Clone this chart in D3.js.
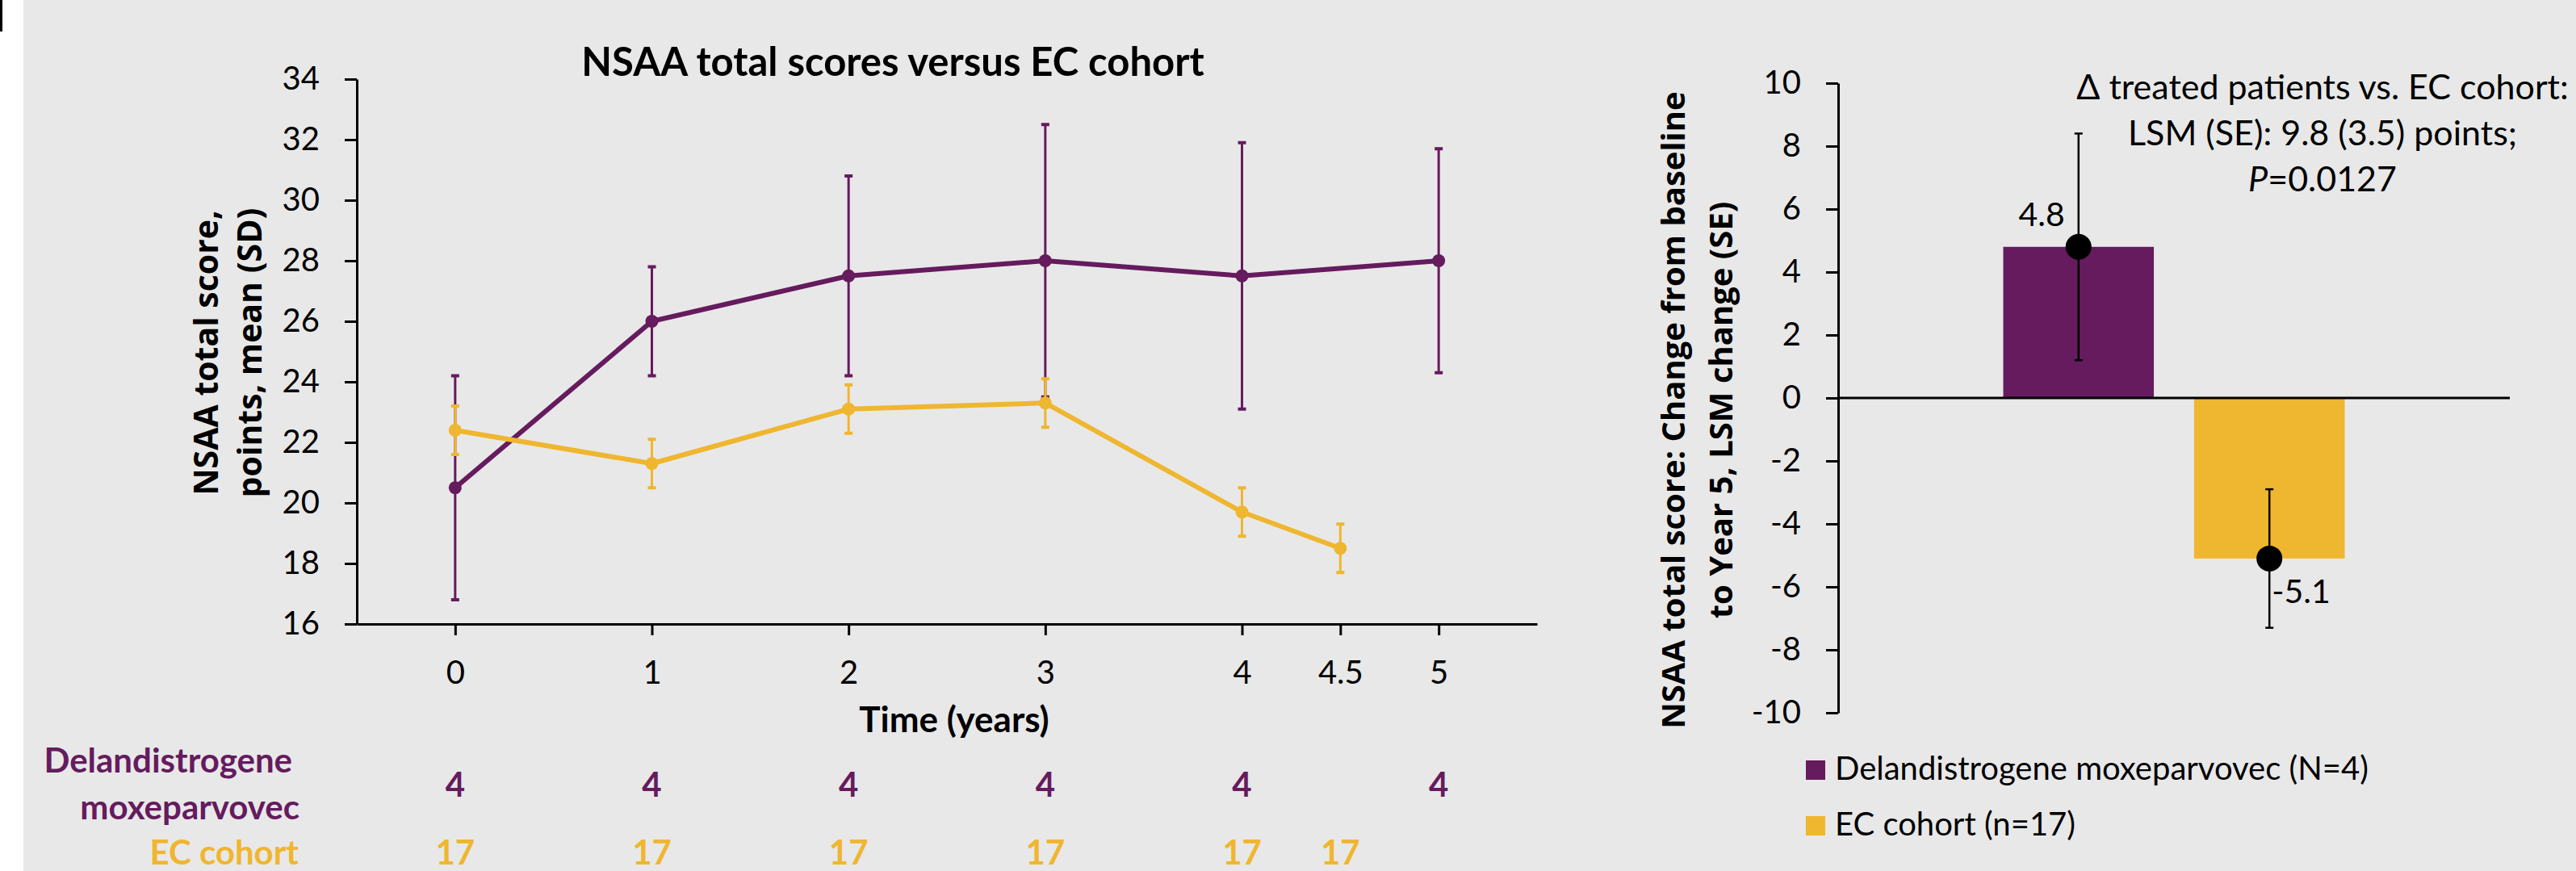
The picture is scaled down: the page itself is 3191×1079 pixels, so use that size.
<!DOCTYPE html>
<html>
<head>
<meta charset="utf-8">
<script src="https://cdn.jsdelivr.net/npm/d3@7"></script>
<style>
  body { margin: 0; background: #fff; }
  text { font-family: Lato, "Open Sans", sans-serif; fill: #000; }
</style>
</head>
<body>
<script>
// NSAA total scores - delandistrogene moxeparvovec vs EC cohort

// ---- data ----
var years = [0, 1, 2, 3, 4, 5];
var treatedMean = [20.5, 26.0, 27.5, 28.0, 27.5, 28.0];
var treatedLow  = [16.8, 24.2, 24.2, 23.5, 23.1, 24.3];
var treatedHigh = [24.2, 27.8, 30.8, 32.5, 31.9, 31.7];

var ecYears = [0, 1, 2, 3, 4, 4.5];
var ecMean = [22.4, 21.3, 23.1, 23.3, 19.7, 18.5];
var ecLow  = [21.6, 20.5, 22.3, 22.5, 18.9, 17.7];
var ecHigh = [23.2, 22.1, 23.9, 24.1, 20.5, 19.3];

var treatedN = [4, 4, 4, 4, 4, 4];
var ecN = [17, 17, 17, 17, 17, 17];

var xTicks = [0, 1, 2, 3, 4, 4.5, 5];
var yTicksLeft = [16, 18, 20, 22, 24, 26, 28, 30, 32, 34];

var barGroups = ["Delandistrogene moxeparvovec (N=4)", "EC cohort (n=17)"];
var barValues = [4.8, -5.1];
var barLow = [1.2, -7.3];
var barHigh = [8.4, -2.9];
var barLabels = ["4.8", "-5.1"];
var yTicksRight = [-10, -8, -6, -4, -2, 0, 2, 4, 6, 8, 10];

var purple = "#651b5e";
var yellow = "#efb62f";

var W = 3191, H = 1079;

var svg = d3.select("body").append("svg")
    .attr("width", W)
    .attr("height", H);

// background panel (white strip on the left edge)
svg.append("rect").attr("width", W).attr("height", H).attr("fill", "#fff");
svg.append("rect").attr("x", 29).attr("width", W - 29).attr("height", H).attr("fill", "#e8e8e8");
svg.append("rect").attr("x", 0).attr("y", 0).attr("width", 3).attr("height", 39).attr("fill", "#000");

// ================= left chart =================
var x = d3.scaleLinear().domain([-0.5, 5.5]).range([442, 1904]);
var y = d3.scaleLinear().domain([16, 34]).range([773, 98]);

// title
svg.append("text")
    .attr("x", 1106).attr("y", 94)
    .style("text-anchor", "middle")
    .style("font-weight", "bold")
    .style("font-size", "49px")
    .text("NSAA total scores versus EC cohort");

// y axis
var yAxisL = svg.append("g")
    .attr("transform", "translate(" + x(-0.5) + ",0)")
    .call(d3.axisLeft(y).tickValues(yTicksLeft).tickSize(15).tickSizeOuter(0).tickPadding(31));

// x axis
var xAxis = svg.append("g")
    .attr("transform", "translate(0," + y(16) + ")")
    .call(d3.axisBottom(x).tickValues(xTicks).tickSize(14).tickSizeOuter(0).tickPadding(32)
      .tickFormat(function(d) { return String(d); }));

[yAxisL, xAxis].forEach(function(a) {
  a.selectAll("path, line").attr("stroke", "#000").attr("stroke-width", 3);
  a.selectAll("text").style("font-size", "40px").attr("fill", "#000").style("font-family", "Lato, sans-serif");
});

// y label (two lines)
var yl = svg.append("text")
    .attr("transform", "translate(0,437) rotate(-90)")
    .style("text-anchor", "middle")
    .style("font-weight", "bold")
    .style("font-family", "'Open Sans', sans-serif")
    .style("font-size", "41px");
yl.append("tspan").attr("x", 0).attr("y", 270).text("NSAA total score,");
yl.append("tspan").attr("x", 0).attr("y", 324).text("points, mean (SD)");

// x label
svg.append("text")
    .attr("x", 1182).attr("y", 907)
    .style("text-anchor", "middle")
    .style("font-weight", "bold")
    .style("font-size", "44px")
    .text("Time (years)");

// series builder
function drawSeries(xs, means, lows, highs, color) {
  var pts = xs.map(function(d, i) { return {x: d, m: means[i], lo: lows[i], hi: highs[i]}; });
  var g = svg.append("g");

  // error bars
  g.selectAll(".eb").data(pts).enter().append("line")
      .attr("x1", function(d) { return x(d.x); })
      .attr("x2", function(d) { return x(d.x); })
      .attr("y1", function(d) { return y(d.lo); })
      .attr("y2", function(d) { return y(d.hi); })
      .attr("stroke", color).attr("stroke-width", 3);
  ["lo", "hi"].forEach(function(k) {
    g.selectAll(".cap" + k).data(pts).enter().append("line")
        .attr("x1", function(d) { return x(d.x) - 5; })
        .attr("x2", function(d) { return x(d.x) + 5; })
        .attr("y1", function(d) { return y(d[k]); })
        .attr("y2", function(d) { return y(d[k]); })
        .attr("stroke", color).attr("stroke-width", 4);
  });

  // line
  var line = d3.line()
      .x(function(d) { return x(d.x); })
      .y(function(d) { return y(d.m); });
  g.append("path").datum(pts)
      .attr("d", line)
      .attr("fill", "none")
      .attr("stroke", color)
      .attr("stroke-width", 6)
      .attr("stroke-linejoin", "round");

  // markers
  g.selectAll("circle").data(pts).enter().append("circle")
      .attr("cx", function(d) { return x(d.x); })
      .attr("cy", function(d) { return y(d.m); })
      .attr("r", 8)
      .attr("fill", color);
}

drawSeries(years, treatedMean, treatedLow, treatedHigh, purple);
drawSeries(ecYears, ecMean, ecLow, ecHigh, yellow);

// numbers at risk
svg.append("text").attr("x", 362).attr("y", 957)
    .style("text-anchor", "end").style("font-weight", "bold").style("font-size", "42px")
    .style("fill", purple).text("Delandistrogene");
svg.append("text").attr("x", 371).attr("y", 1015)
    .style("text-anchor", "end").style("font-weight", "bold").style("font-size", "42px")
    .style("fill", purple).text("moxeparvovec");
svg.append("text").attr("x", 370).attr("y", 1071)
    .style("text-anchor", "end").style("font-weight", "bold").style("font-size", "42px")
    .style("fill", yellow).text("EC cohort");

svg.selectAll(".nT").data(treatedN).enter().append("text")
    .attr("x", function(d, i) { return x(years[i]); })
    .attr("y", 987)
    .style("text-anchor", "middle").style("font-weight", "bold").style("font-size", "42px")
    .style("fill", purple)
    .text(function(d) { return d; });
svg.selectAll(".nE").data(ecN).enter().append("text")
    .attr("x", function(d, i) { return x(ecYears[i]); })
    .attr("y", 1071)
    .style("text-anchor", "middle").style("font-weight", "bold").style("font-size", "42px")
    .style("fill", yellow)
    .text(function(d) { return d; });

// ================= right chart =================
var yR = d3.scaleLinear().domain([-10, 10]).range([883, 103]);
var x0 = d3.scaleBand().domain(["Year 5"]).range([2277, 3109]);
var x1 = d3.scaleBand().domain(barGroups).range([0, x0.bandwidth()])
    .paddingInner(0.211).paddingOuter(0.865);
var barColor = d3.scaleOrdinal().domain(barGroups).range([purple, yellow]);

var yAxisR = svg.append("g")
    .attr("transform", "translate(2277,0)")
    .call(d3.axisLeft(yR).tickValues(yTicksRight).tickSize(15).tickSizeOuter(0).tickPadding(31)
      .tickFormat(function(d) { return String(d); }));
yAxisR.selectAll("path, line").attr("stroke", "#000").attr("stroke-width", 3);
yAxisR.selectAll("text").style("font-size", "40px").attr("fill", "#000").style("font-family", "Lato, sans-serif");

var bars = barGroups.map(function(g, i) {
  return {g: g, v: barValues[i], lo: barLow[i], hi: barHigh[i], label: barLabels[i]};
});
function cx(d) { return x0("Year 5") + x1(d.g) + x1.bandwidth() / 2; }

svg.selectAll(".bar").data(bars).enter().append("rect")
    .attr("x", function(d) { return x0("Year 5") + x1(d.g); })
    .attr("y", function(d) { return yR(Math.max(0, d.v)); })
    .attr("width", x1.bandwidth())
    .attr("height", function(d) { return Math.abs(yR(d.v) - yR(0)); })
    .attr("fill", function(d) { return barColor(d.g); });

// zero line
svg.append("line")
    .attr("x1", 2277).attr("x2", 3109)
    .attr("y1", yR(0)).attr("y2", yR(0))
    .attr("stroke", "#000").attr("stroke-width", 3);

// error bars
svg.selectAll(".ebR").data(bars).enter().append("line")
    .attr("x1", cx).attr("x2", cx)
    .attr("y1", function(d) { return yR(d.lo); })
    .attr("y2", function(d) { return yR(d.hi); })
    .attr("stroke", "#000").attr("stroke-width", 2.5);
["lo", "hi"].forEach(function(k) {
  svg.selectAll(".capR" + k).data(bars).enter().append("line")
      .attr("x1", function(d) { return cx(d) - 5; })
      .attr("x2", function(d) { return cx(d) + 5; })
      .attr("y1", function(d) { return yR(d[k]); })
      .attr("y2", function(d) { return yR(d[k]); })
      .attr("stroke", "#000").attr("stroke-width", 2.5);
});
svg.selectAll(".dotR").data(bars).enter().append("circle")
    .attr("cx", cx)
    .attr("cy", function(d) { return yR(d.v); })
    .attr("r", 16)
    .attr("fill", "#000");

// value labels
svg.selectAll(".lblR").data(bars).enter().append("text")
    .attr("x", function(d) { return d.v > 0 ? cx(d) - 17 : cx(d) + 3; })
    .attr("y", function(d) { return d.v > 0 ? yR(d.v) - 26 : yR(d.v) + 55; })
    .style("text-anchor", function(d) { return d.v > 0 ? "end" : "start"; })
    .style("font-size", "41px")
    .text(function(d) { return d.label; });

// annotation
var ann = svg.append("text")
    .style("text-anchor", "middle")
    .style("font-size", "43px");
ann.append("tspan").attr("x", 2877).attr("y", 123).text("\u0394 treated patients vs. EC cohort:");
ann.append("tspan").attr("x", 2877).attr("y", 180).text("LSM (SE): 9.8 (3.5) points;");
var l3 = ann.append("tspan").attr("x", 2877).attr("y", 237);
l3.append("tspan").style("font-style", "italic").text("P");
l3.append("tspan").text("=0.0127");

// y label right
var yr = svg.append("text")
    .attr("transform", "translate(0,508) rotate(-90)")
    .style("text-anchor", "middle")
    .style("font-weight", "bold")
    .style("font-family", "'Open Sans', sans-serif")
    .style("font-size", "40px");
yr.append("tspan").attr("x", 0).attr("y", 2087).text("NSAA total score: Change from baseline");
yr.append("tspan").attr("x", 0).attr("y", 2146).text("to Year 5, LSM change (SE)");

// legend
var leg = svg.selectAll(".leg").data(barGroups).enter().append("g")
    .attr("transform", function(d, i) { return "translate(2237," + (942 + i * 69) + ")"; });
leg.append("rect").attr("width", 24).attr("height", 24)
    .attr("fill", function(d) { return barColor(d); });
leg.append("text").attr("x", 36).attr("y", 24)
    .style("font-size", "40px")
    .text(function(d) { return d; });
</script>
</body>
</html>
